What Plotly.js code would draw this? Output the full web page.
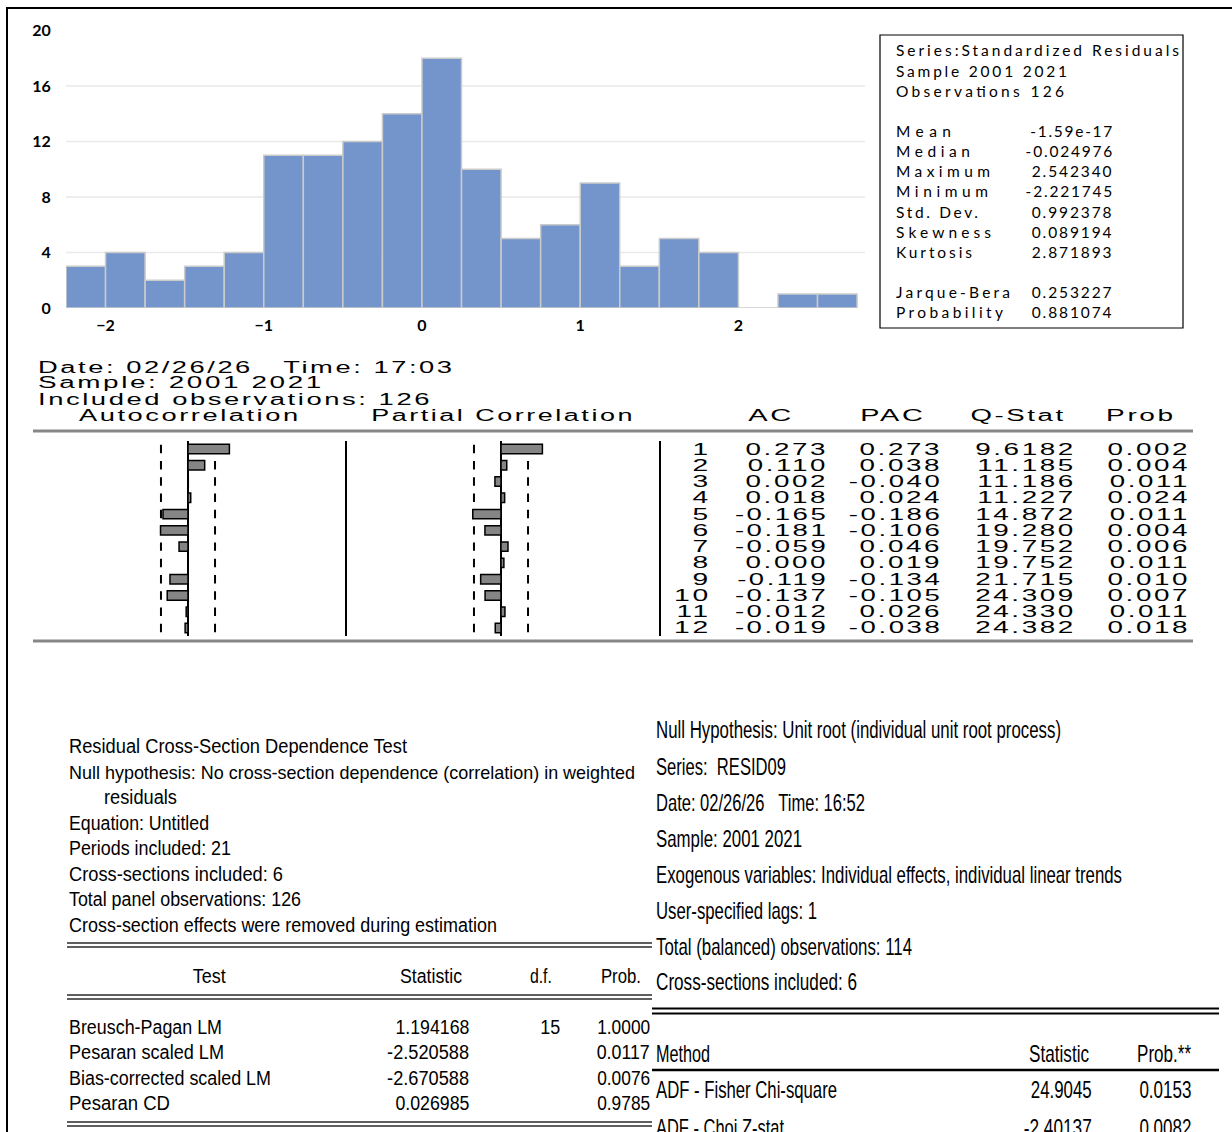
<!DOCTYPE html>
<html><head><meta charset="utf-8">
<script src="https://cdn.plot.ly/plotly-3.0.1.min.js"></script>
<style>html,body{margin:0;padding:0;background:#fff;} #chart{width:1232px;height:1132px;}</style>
</head><body><div id="chart"></div>
<script>
// ---------------- data ----------------
const binStarts = [-2.25,-2.0,-1.75,-1.5,-1.25,-1.0,-0.75,-0.5,-0.25,0.0,0.25,0.5,0.75,1.0,1.25,1.5,1.75,2.0,2.25,2.5];
const binCounts = [3,4,2,3,4,11,11,12,14,18,10,5,6,9,3,5,4,0,1,1];
const binWidth = 0.25;
const histXTicks = [-2,-1,0,1,2];
const histYTicks = [0,4,8,12,16,20];
const histGrid = [4,8,12,16];

const statHeader = ['Series:Standardized Residuals','Sample 2001 2021','Observations 126'];
const statLabels = ['Mean','Median','Maximum','Minimum','Std. Dev.','Skewness','Kurtosis','Jarque-Bera','Probability'];
const statValues = ['-1.59e-17','-0.024976','2.542340','-2.221745','0.992378','0.089194','2.871893','0.253227','0.881074'];

const corrHeader = ['Date: 02/26/26   Time: 17:03','Sample: 2001 2021','Included observations: 126'];
const corrCols = ['Autocorrelation','Partial Correlation','AC','PAC','Q-Stat','Prob'];
const lags = [1,2,3,4,5,6,7,8,9,10,11,12];
const acVals = [0.273,0.110,0.002,0.018,-0.165,-0.181,-0.059,0.000,-0.119,-0.137,-0.012,-0.019];
const pacVals = [0.273,0.038,-0.040,0.024,-0.186,-0.106,0.046,0.019,-0.134,-0.105,0.026,-0.038];
const qStats = ['9.6182','11.185','11.186','11.227','14.872','19.280','19.752','19.752','21.715','24.309','24.330','24.382'];
const qProbs = ['0.002','0.004','0.011','0.024','0.011','0.004','0.006','0.011','0.010','0.007','0.011','0.018'];
const nObs = 126;

const cdInfo = ['Residual Cross-Section Dependence Test',
  'Null hypothesis: No cross-section dependence (correlation) in weighted',
  'residuals','Equation: Untitled','Periods included: 21','Cross-sections included: 6',
  'Total panel observations: 126','Cross-section effects were removed during estimation'];
const cdCols = ['Test','Statistic','d.f.','Prob.'];
const cdTests = ['Breusch-Pagan LM','Pesaran scaled LM','Bias-corrected scaled LM','Pesaran CD'];
const cdStats = ['1.194168','-2.520588','-2.670588','0.026985'];
const cdDf = ['15','','',''];
const cdProbs = ['1.0000','0.0117','0.0076','0.9785'];

const urInfo = ['Null Hypothesis: Unit root (individual unit root process)','Series:  RESID09',
  'Date: 02/26/26   Time: 16:52','Sample: 2001 2021',
  'Exogenous variables: Individual effects, individual linear trends','User-specified lags: 1',
  'Total (balanced) observations: 114','Cross-sections included: 6'];
const urCols = ['Method','Statistic','Prob.**'];
const urMethods = ['ADF - Fisher Chi-square','ADF - Choi Z-stat'];
const urStats = ['24.9045','-2.40137'];
const urProbs = ['0.0153','0.0082'];

// ---------------- helpers ----------------
const W = 1232, H = 1132;
const px = x => x / W, py = y => 1 - y / H;
const annotations = [], stretch = {}, shapes = [];
function txt(x, y, text, o) {
  const anchor = o.anchor || 'left';
  stretch[annotations.length] = {f: o.f, w: o.w, ls: o.ls || 0, adj: o.adj || 'spacingAndGlyphs', anchor: anchor};
  annotations.push({
    xref: 'paper', yref: o.yref || 'paper', x: px(x), y: o.yref ? y : py(y),
    text: String(text).replace(/ {2,}/g, m => '\u00a0'.repeat(m.length)),
    showarrow: false, xanchor: anchor, yanchor: 'middle', align: anchor, borderpad: 0,
    font: {family: o.family, size: o.size, color: '#000', weight: o.weight || 'normal'}
  });
}
function hline(x0, x1, y, w, c) { shapes.push({type:'line', xref:'paper', yref:'paper', x0:px(x0), x1:px(x1), y0:py(y), y1:py(y), line:{color:c, width:w}}); }
function vline(x, y0, y1, w, c) { shapes.push({type:'line', xref:'paper', yref:'paper', x0:px(x), x1:px(x), y0:py(y0), y1:py(y1), line:{color:c, width:w}}); }

// ---------------- frame ----------------
vline(7, 7, 1140, 2, '#000');
hline(6, 1240, 8, 2, '#000');

// ---------------- histogram ----------------
histGrid.forEach(v => shapes.push({type:'line', xref:'paper', yref:'y', x0:px(66), x1:px(865), y0:v, y1:v, layer:'below', line:{color:'#e9e9e9', width:1.5}}));
shapes.push({type:'rect', xref:'paper', yref:'paper', x0:px(880), x1:px(1183), y0:py(35), y1:py(328), line:{color:'#000', width:1.2}});

const STAT = {family:'Lato, Carlito, sans-serif', size:15.5, adj:'spacing'};
const statHeaderY = [50.5, 70.5, 90.5];
const statHeaderW = [283, 171, 168];
statHeader.forEach((t, i) => txt(895, statHeaderY[i], t, {...STAT, w: statHeaderW[i]}));
const statY = [130.7, 151, 171, 191.5, 211.5, 231.5, 251.5, 292, 312];
const statLabelW = [55, 74, 94, 92, 82, 95, 76, 114, 107];
statLabels.forEach((t, i) => txt(895, statY[i], t, {...STAT, w: statLabelW[i]}));
statValues.forEach((t, i) => txt(1113, statY[i], t, {...STAT, f:1.2, anchor:'right'}));

// ---------------- correlogram ----------------
const CORR = {family:'Liberation Sans, Arial, sans-serif', size:16, f:2.06, ls:1.5};
[367, 383, 399].forEach((y, i) => txt(37, y, corrHeader[i], CORR));
[190, 503, 771, 893, 1018, 1141].forEach((x, i) => txt(x, 416, corrCols[i], {...CORR, anchor:'center'}));
const colR = [712, 829, 943, 1077, 1191];
lags.forEach((k, i) => {
  txt(colR[0], k, String(k), {...CORR, anchor:'right', yref:'y2'});
  txt(colR[1], k, acVals[i].toFixed(3), {...CORR, anchor:'right', yref:'y2'});
  txt(colR[2], k, pacVals[i].toFixed(3), {...CORR, anchor:'right', yref:'y2'});
  txt(colR[3], k, qStats[i], {...CORR, anchor:'right', yref:'y2'});
  txt(colR[4], k, qProbs[i], {...CORR, anchor:'right', yref:'y2'});
});
hline(33, 1193, 431, 3, '#878787');
hline(33, 1193, 641, 3, '#878787');
vline(346, 441, 636, 2, '#000');
vline(660, 441, 636, 2, '#000');
const bound = 2 / Math.sqrt(nObs);
['x2', 'x3'].forEach(xr => {
  shapes.push({type:'line', xref:xr, yref:'y2', x0:0, x1:0, y0:0.5, y1:12.5, line:{color:'#000', width:2}, layer:'below'});
  lags.forEach(k => [-bound, bound].forEach(b => shapes.push({type:'line', xref:xr, yref:'y2', x0:b, x1:b, y0:k-0.26, y1:k+0.26, line:{color:'#000', width:2}, layer:'below'})));
});

// ---------------- cross-section dependence block ----------------
const LB = {family:'Liberation Sans Narrow, Liberation Sans, Arial, sans-serif', size:20};
const cdY = [746, 772, 797, 823, 848, 874, 899, 925];
const cdInfoW = [338, 566, 73, 140, 162, 214, 232, 428];
cdInfo.forEach((t, i) => txt(i === 2 ? 103 : 68, cdY[i], t, {...LB, size: i === 1 ? 18.5 : LB.size, w: cdInfoW[i]}));
const cdColX = [209, 431, 541, 621], cdColW = [33, 62, 22, 40];
cdCols.forEach((t, i) => txt(cdColX[i], 976, t, {...LB, anchor:'center', w: cdColW[i]}));
const cdRowY = [1027, 1052, 1078, 1103];
const cdTestW = [153, 155, 202, 101];
cdTests.forEach((t, i) => {
  txt(68, cdRowY[i], t, {...LB, w: cdTestW[i]});
  txt(470, cdRowY[i], cdStats[i], {...LB, anchor:'right', w: cdStats[i].length > 8 ? 82 : 74});
  if (cdDf[i]) txt(561, cdRowY[i], cdDf[i], {...LB, anchor:'right', w: 20});
  txt(651, cdRowY[i], cdProbs[i], {...LB, anchor:'right', w: 53});
});
[[943, 947], [995, 999], [1122, 1126]].forEach(p => p.forEach(y => hline(67, 652, y, 1.5, '#2a2a2a')));

// ---------------- unit root block ----------------
const RB = {family:'Liberation Sans Narrow, Liberation Sans, Arial, sans-serif', size:24};
const urY = [730, 766, 802, 838, 874, 910, 946, 981];
const urInfoW = [405, 130, 209, 146, 466, 161, 256, 201];
urInfo.forEach((t, i) => txt(655, urY[i], t, {...RB, size: i === 0 ? 23.5 : RB.size, w: urInfoW[i]}));
txt(655, 1053, urCols[0], {...RB, w: 54});
txt(1090, 1053, urCols[1], {...RB, anchor:'right', w: 60});
txt(1192, 1053, urCols[2], {...RB, anchor:'right', w: 54});
const urRowY = [1089, 1127];
const urMethW = [181, 128], urStatW = [61, 68];
urMethods.forEach((t, i) => {
  txt(655, urRowY[i], t, {...RB, w: urMethW[i]});
  txt(1093, urRowY[i], urStats[i], {...RB, anchor:'right', w: urStatW[i]});
  txt(1192, urRowY[i], urProbs[i], {...RB, anchor:'right', w: 52});
});
hline(652, 1219, 1008.5, 2, '#000');
hline(652, 1219, 1013.5, 2, '#000');
hline(652, 1219, 1070, 2.5, '#000');

// ---------------- traces ----------------
const traces = [
  {type:'bar', x: binStarts, y: binCounts, offset: 0, width: binWidth, xaxis:'x', yaxis:'y',
   marker:{color:'#7395cb', line:{color:'#cbcbcb', width:1.5}}},
  {type:'bar', orientation:'h', x: acVals, y: lags, width: 0.58, xaxis:'x2', yaxis:'y2',
   marker:{color:'#858585', line:{color:'#000', width:1.5}}},
  {type:'bar', orientation:'h', x: pacVals, y: lags, width: 0.58, xaxis:'x3', yaxis:'y2',
   marker:{color:'#858585', line:{color:'#000', width:1.5}}}
];

const hide = {visible:false, showgrid:false, zeroline:false, fixedrange:true};
const tickFont = {family:'Lato, Carlito, sans-serif', size:16, color:'#000', weight:'bold'};
const layout = {
  width: W, height: H, margin:{l:0, r:0, t:0, b:0},
  paper_bgcolor:'#fff', plot_bgcolor:'rgba(0,0,0,0)', showlegend:false, hovermode:false,
  xaxis:{domain:[px(66), px(865)], range:[-2.25, 2.8], tickvals: histXTicks, ticks:'outside', ticklen:3,
         tickcolor:'rgba(0,0,0,0)', showgrid:false, zeroline:false, showline:false, anchor:'y', tickfont: tickFont},
  yaxis:{domain:[py(308), py(30.5)], range:[0, 20], tickvals: histYTicks, ticks:'outside', ticklen:11,
         tickcolor:'rgba(0,0,0,0)', showgrid:false, zeroline:false, showline:false, anchor:'x', tickfont: tickFont},
  xaxis2:{...hide, domain:[px(188 - 151.7), px(188 + 151.7)], range:[-1, 1], anchor:'y2'},
  xaxis3:{...hide, domain:[px(501 - 151.7), px(501 + 151.7)], range:[-1, 1], anchor:'y2'},
  yaxis2:{...hide, domain:[py(636.1), py(440.9)], range:[12.5, 0.5], anchor:'x2'},
  bargap: 0,
  shapes: shapes,
  annotations: annotations
};

Plotly.newPlot('chart', traces, layout, {staticPlot:true, displayModeBar:false}).then(gd => {
  gd.querySelectorAll('g.annotation').forEach(g => {
    const s = stretch[+g.getAttribute('data-index')];
    if (!s) return;
    const t = g.querySelector('text.annotation-text');
    if (!t) return;
    const nat = t.getComputedTextLength();
    const target = s.w || nat * s.f;
    if (s.ls) t.style.letterSpacing = s.ls + 'px';
    t.setAttribute('lengthAdjust', s.adj);
    t.setAttribute('textLength', target.toFixed(1));
    const r = g.querySelector('rect.bg');
    if (r) {
      const oldW = +r.getAttribute('width') || 0;
      const newW = Math.max(0, target + (oldW - nat));
      const dx = s.anchor === 'right' ? oldW - newW : (s.anchor === 'center' ? (oldW - newW) / 2 : 0);
      r.setAttribute('width', newW.toFixed(1));
      r.setAttribute('x', ((+r.getAttribute('x') || 0) + dx).toFixed(1));
    }
  });
});
</script></body></html>
